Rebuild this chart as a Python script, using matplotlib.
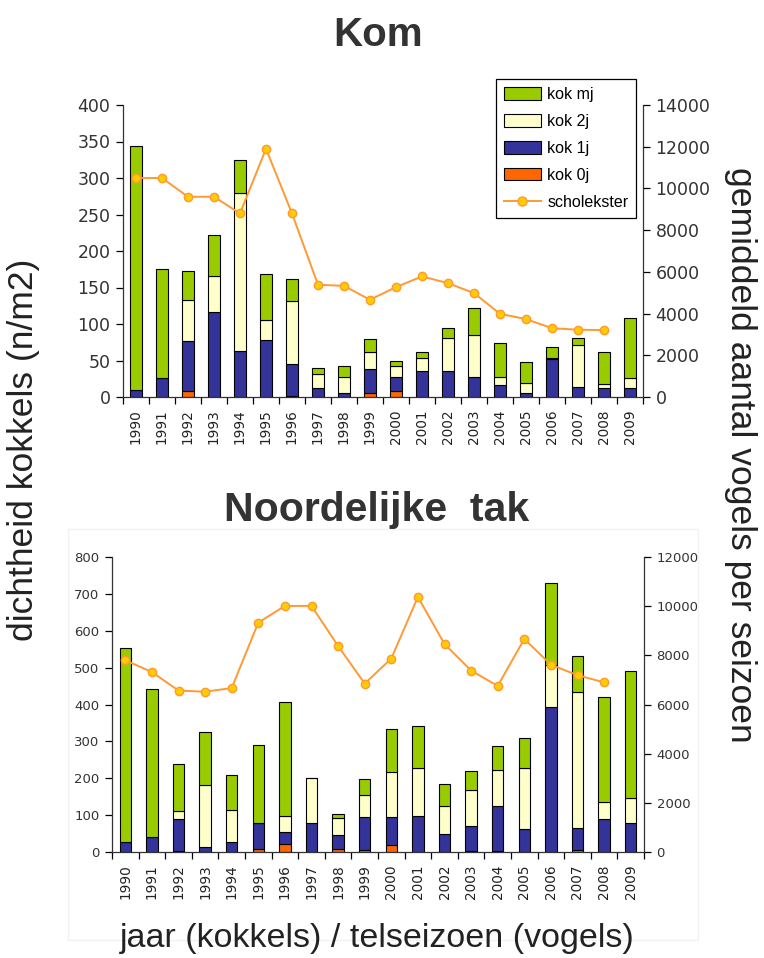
import numpy as np
import matplotlib
matplotlib.use("Agg")
import matplotlib.pyplot as plt
from matplotlib.patches import Patch, Rectangle
from matplotlib.lines import Line2D

years = [str(y) for y in range(1990, 2010)]

# Kom
kom_0j = [0, 0, 8, 0, 0, 0, 1, 0, 0, 5, 8, 0, 0, 0, 0, 0, 0, 0, 0, 0]
kom_1j = [10, 26, 69, 117, 63, 78, 44, 12, 6, 33, 19, 36, 35, 28, 16, 5, 52, 14, 12, 12]
kom_2j = [0, 0, 56, 49, 217, 28, 86, 19, 22, 23, 15, 17, 46, 57, 12, 14, 2, 57, 6, 14]
kom_mj = [334, 150, 40, 56, 44, 62, 30, 9, 15, 18, 7, 8, 14, 37, 46, 29, 14, 10, 44, 82]
kom_scholekster = [10500, 10500, 9600, 9600, 8800, 11900, 8800, 5380, 5330, 4660,
                   5270, 5780, 5460, 4980, 3990, 3735, 3300, 3225, 3210, np.nan]

# Noordelijke tak
nt_0j = [0, 0, 2, 0, 0, 9, 21, 0, 9, 5, 20, 0, 0, 2, 2, 0, 0, 5, 1, 0]
nt_1j = [27, 42, 87, 13, 27, 71, 34, 80, 36, 90, 75, 97, 48, 68, 122, 62, 392, 61, 89, 80]
nt_2j = [0, 0, 22, 168, 87, 0, 42, 122, 46, 60, 121, 132, 78, 98, 99, 166, 114, 367, 45, 66]
nt_mj = [525, 399, 129, 145, 95, 211, 309, 0, 13, 43, 117, 114, 58, 52, 65, 81, 224, 98, 285, 346]
nt_scholekster = [7800, 7320, 6565, 6520, 6670, 9330, 10010, 10010, 8380, 6850,
                  7870, 10375, 8460, 7380, 6755, 8665, 7620, 7190, 6900, np.nan]

series_labels = ["kok mj", "kok 2j", "kok 1j", "kok 0j", "scholekster"]

C_MJ = "#99CC00"
C_2J = "#FFFFCC"
C_1J = "#333399"
C_0J = "#FF6600"
C_LINE = "#FF9933"
C_MARK = "#FFCC00"

plt.rcParams['font.family'] = ['Liberation Sans', 'DejaVu Sans']

fig = plt.figure(figsize=(7.64, 9.58), dpi=100)
W, H = 764, 958

def ax_rect(l, r, t, b):
    return [l / W, 1 - b / H, (r - l) / W, (b - t) / H]

def draw(ax, v0, v1, v2, vm, line, ymax, ystep, y2max, y2step, tickfs):
    x = np.arange(len(years))
    v0 = np.array(v0, float); v1 = np.array(v1, float)
    v2 = np.array(v2, float); vm = np.array(vm, float)
    w = 0.43
    kw = dict(width=w, edgecolor="black", linewidth=0.8, zorder=2)
    ax.bar(x, v0, color=C_0J, **kw)
    ax.bar(x, v1, bottom=v0, color=C_1J, **kw)
    ax.bar(x, v2, bottom=v0 + v1, color=C_2J, **kw)
    ax.bar(x, vm, bottom=v0 + v1 + v2, color=C_MJ, **kw)
    ax.set_xlim(-0.5, len(years) - 0.5)
    ax.set_ylim(0, ymax)
    ax.set_yticks(np.arange(0, ymax + 1, ystep))
    ax.set_xticks(x)
    ax.set_xticklabels(years, rotation=90, fontsize=9.8, family="DejaVu Sans", color="#222222")
    ax.set_xticks(np.arange(-0.5, len(years)), minor=True)
    ax.tick_params(axis="x", which="major", length=0, pad=9)
    ax.tick_params(axis="x", which="minor", length=5, width=0.9, direction="out")
    ax.tick_params(axis="y", length=5, width=0.9, direction="out", labelsize=tickfs, pad=4,
                   labelcolor="#333333")
    for lab in ax.get_yticklabels():
        lab.set_family("DejaVu Sans")
    ax.spines["top"].set_visible(False)
    ax.spines["right"].set_visible(False)
    for s in ("left", "bottom"):
        ax.spines[s].set_linewidth(0.9)
        ax.spines[s].set_color("#333333")
    ax2 = ax.twinx()
    ax2.plot(x, line, color=C_LINE, linewidth=1.4, marker="o", markersize=6,
             markerfacecolor=C_MARK, markeredgecolor=C_LINE, markeredgewidth=1.0, zorder=3)
    ax2.set_ylim(0, y2max)
    ax2.set_yticks(np.arange(0, y2max + 1, y2step))
    ax2.tick_params(axis="y", length=5, width=0.9, direction="out", labelsize=tickfs, pad=4,
                    labelcolor="#333333")
    for lab in ax2.get_yticklabels():
        lab.set_family("DejaVu Sans")
    for s in ("top", "left", "bottom"):
        ax2.spines[s].set_visible(False)
    ax2.spines["right"].set_linewidth(0.9)
    ax2.spines["right"].set_color("#333333")
    return ax2

# faint chart-area border for bottom chart
fig.patches.append(Rectangle((68 / W, 1 - 940 / H), (698 - 68) / W, (940 - 529) / H,
                             transform=fig.transFigure, fill=False, edgecolor="#f2f2f2",
                             linewidth=1.0))

ax_top = fig.add_axes(ax_rect(123, 643, 105, 397))
draw(ax_top, kom_0j, kom_1j, kom_2j, kom_mj, kom_scholekster, 400, 50, 14000, 2000, 12.5)

ax_bot = fig.add_axes(ax_rect(112, 644, 557, 852))
draw(ax_bot, nt_0j, nt_1j, nt_2j, nt_mj, nt_scholekster, 800, 100, 12000, 2000, 9.5)

fig.text(378 / W, 1 - 35 / H, "Kom", ha="center", va="center", fontsize=29,
         fontweight="bold", color="#333333")
fig.text(377 / W, 1 - 510 / H, "Noordelijke  tak", ha="center", va="center", fontsize=29.5,
         fontweight="bold", color="#333333")
fig.text(24 / W, 1 - 450 / H, "dichtheid kokkels (n/m2)", rotation=90, ha="center",
         va="center", fontsize=25.5, color="#222222")
fig.text(741 / W, 1 - 455 / H, "gemiddeld aantal vogels per seizoen", rotation=270,
         ha="center", va="center", fontsize=25.5, color="#222222")
fig.text(377 / W, 1 - 938 / H, "jaar (kokkels) / telseizoen (vogels)", ha="center",
         va="center", fontsize=24.5, color="#222222")

handles = [Patch(facecolor=C_MJ, edgecolor="black", linewidth=0.8),
           Patch(facecolor=C_2J, edgecolor="black", linewidth=0.8),
           Patch(facecolor=C_1J, edgecolor="black", linewidth=0.8),
           Patch(facecolor=C_0J, edgecolor="black", linewidth=0.8),
           Line2D([], [], color=C_LINE, linewidth=1.4, marker="o", markersize=6.5,
                  markerfacecolor=C_MARK, markeredgecolor=C_LINE)]
leg = fig.legend(handles, series_labels, loc="upper left",
                 bbox_to_anchor=(496 / W, 1 - 79 / H), fontsize=11.5, frameon=True,
                 fancybox=False, edgecolor="black", framealpha=1, borderpad=0.5,
                 labelspacing=0.75, handlelength=2.3, handleheight=0.8, handletextpad=0.4,
                 borderaxespad=0)
leg.get_frame().set_linewidth(0.9)

fig.savefig("out.png", dpi=100)
